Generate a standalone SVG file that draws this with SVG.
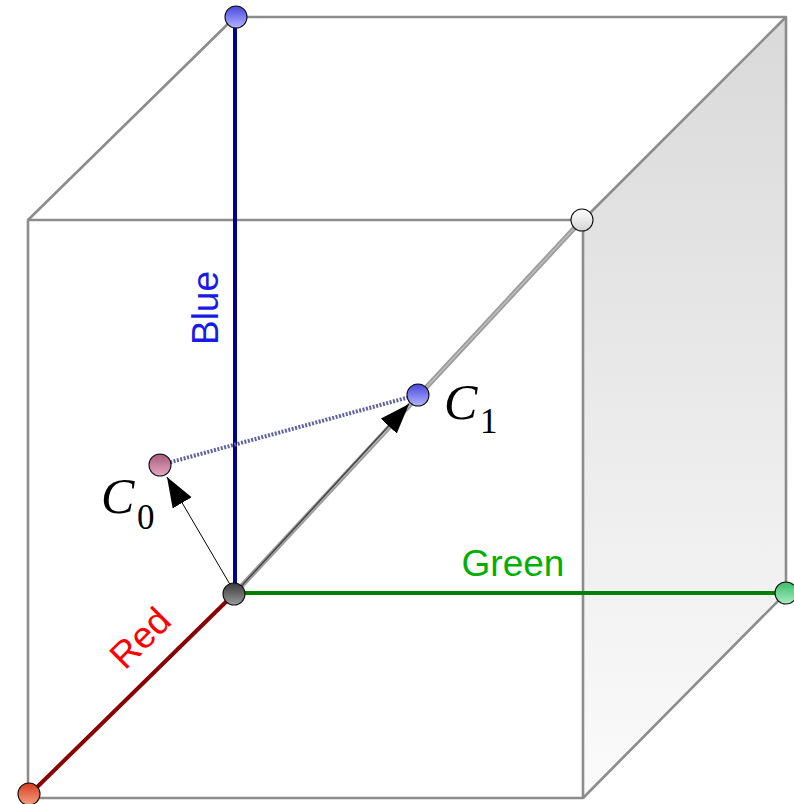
<svg xmlns="http://www.w3.org/2000/svg" width="794" height="804" viewBox="0 0 794 804">
<style>
.edge{fill:none;stroke:#8c8c8c;stroke-width:2.6;stroke-linejoin:round}
.ball{stroke:#111;stroke-width:1.1}
.axis{fill:none;stroke-width:4;stroke-linecap:butt}
.lbl{font-family:"Liberation Sans",Arial,sans-serif;font-size:37px}
.cl{font-family:"Liberation Serif","Times New Roman",serif;fill:#000}
</style>
<defs>
<linearGradient id="face" x1="0" y1="0" x2="0" y2="1"><stop offset="0" stop-color="#d9d9d9"/><stop offset="1" stop-color="#fbfbfb"/></linearGradient>
<linearGradient id="gBlue" x1="0" y1="0" x2="0" y2="1"><stop offset="0" stop-color="#4646dc"/><stop offset="1" stop-color="#b4b4ff"/></linearGradient>
<linearGradient id="gC0" x1="0" y1="0" x2="0" y2="1"><stop offset="0" stop-color="#a85a7c"/><stop offset="1" stop-color="#e4a8c4"/></linearGradient>
<linearGradient id="gRed" x1="0" y1="0" x2="0" y2="1"><stop offset="0" stop-color="#d63c1e"/><stop offset="1" stop-color="#f4a080"/></linearGradient>
<linearGradient id="gGreen" x1="0" y1="0" x2="0" y2="1"><stop offset="0" stop-color="#3cbc6c"/><stop offset="1" stop-color="#a8ecc0"/></linearGradient>
<linearGradient id="gWhite" x1="0" y1="0" x2="0" y2="1"><stop offset="0" stop-color="#ffffff"/><stop offset="1" stop-color="#d4d4d4"/></linearGradient>
<linearGradient id="gBlack" x1="0" y1="0" x2="0" y2="1"><stop offset="0" stop-color="#3a3a3a"/><stop offset="1" stop-color="#9a9a9a"/></linearGradient>
<marker id="ah" markerUnits="userSpaceOnUse" markerWidth="32" markerHeight="24" refX="30" refY="11" orient="auto" viewBox="0 0 32 24">
<path d="M0,0 L30,11 L0,22 Z" fill="#000"/>
</marker>
</defs>
<g id="cube">
<polygon points="583,220 786,17 786,593 583,798" fill="url(#face)"/>
<rect class="edge" x="28" y="220" width="555" height="578"/>
<polyline class="edge" points="28,220 235,17 786,17 786,593 583,798"/>
<line class="edge" x1="583" y1="220" x2="786" y2="17"/>
</g>
<g id="connectors">
<line class="axis" x1="235" y1="17" x2="235" y2="593" stroke="#00008b"/>
<line class="axis" x1="235" y1="593" x2="786" y2="593" stroke="#008000" stroke-width="3.5"/>
<line class="axis" x1="235" y1="593" x2="28" y2="796" stroke="#8b0000"/>
<line x1="235" y1="593" x2="581" y2="221" stroke="#9c9c9c" stroke-width="5"/>
<line x1="235" y1="593" x2="581" y2="221" stroke="#bdbdbd" stroke-width="1.5"/>
<line x1="160" y1="465" x2="417" y2="395" stroke="#62629e" stroke-width="4" stroke-dasharray="2 1.5"/>
<line x1="235" y1="593" x2="409" y2="404" stroke="#444" stroke-width="1.5" marker-end="url(#ah)"/>
<line x1="235" y1="593" x2="167" y2="477" stroke="#000" stroke-width="1" marker-end="url(#ah)"/>
</g>
<g id="blue-node"><circle class="ball" cx="236" cy="17" r="11" fill="url(#gBlue)"/></g>
<g id="white-node"><circle class="ball" cx="582" cy="220" r="11" fill="url(#gWhite)"/></g>
<g id="green-node"><circle class="ball" cx="786" cy="593" r="11" fill="url(#gGreen)"/></g>
<g id="red-node"><circle class="ball" cx="29" cy="794" r="11" fill="url(#gRed)"/></g>
<g id="black-node"><circle class="ball" cx="234" cy="594" r="11" fill="url(#gBlack)"/></g>
<g id="c1-node"><circle class="ball" cx="418" cy="395" r="11" fill="url(#gBlue)" stroke="#8a8ad0"/>
<text class="cl" x="444" y="419" font-size="50" font-style="italic">C</text>
<text class="cl" x="480" y="433" font-size="35">1</text></g>
<g id="c0-node"><circle class="ball" cx="160" cy="465" r="11" fill="url(#gC0)"/>
<text class="cl" x="101" y="513" font-size="50" font-style="italic">C</text>
<text class="cl" x="137" y="529" font-size="35">0</text></g>
<g id="labels">
<text class="lbl" fill="#1a1ae6" text-anchor="middle" transform="translate(218,308) rotate(-90)">Blue</text>
<text class="lbl" fill="#00b000" text-anchor="middle" x="513" y="576">Green</text>
<text class="lbl" fill="#ff0000" text-anchor="middle" font-size="36" transform="translate(149,647) rotate(-45)">Red</text>
</g>
</svg>
